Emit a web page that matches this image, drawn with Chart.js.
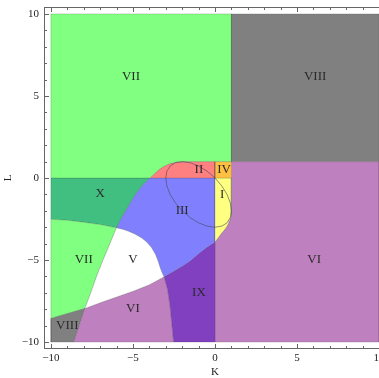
<!DOCTYPE html>
<html>
<head>
<meta charset="utf-8">
<script src="https://cdn.jsdelivr.net/npm/chart.js@4.4.1/dist/chart.umd.min.js"></script>
<style>
  html, body { margin: 0; padding: 0; background: #fff; overflow: hidden; }
  #wrap { width: 392px; height: 378px; }
</style>
</head>
<body>
<div id="wrap"><canvas id="regions" width="392" height="378"></canvas></div>
<script>
// tick values
const majorTicks = [-10, -5, 0, 5, 10];
const minorTicks = [-9, -8, -7, -6, -4, -3, -2, -1, 1, 2, 3, 4, 6, 7, 8, 9];

// boundary curves, [K, L]
const outerCurve = [[-6.0, -3.03], [-5.7, -2.45], [-5.38, -1.91], [-5.1, -1.42], [-4.77, -0.9], [-4.4, -0.42], [-3.96, 0]];
const redCurve = [[-3.96, 0], [-3.65, 0.3], [-3.35, 0.56], [-3.05, 0.74], [-2.74, 0.88], [-2.4, 0.96], [-2.0, 1.0]];
const yellowEdge = [[1, 0], [1, -2.0], [0.98, -2.3], [0.91, -2.52], [0.8, -2.8], [0.67, -3.03], [0.5, -3.25], [0.35, -3.43], [0.18, -3.65], [0, -3.9]];
const blueBottom = [[0, -3.9], [-0.51, -4.24], [-1.0, -4.62], [-1.52, -5.06], [-2.0, -5.38], [-2.54, -5.7], [-3.1, -6.02]];
const whiteTop = [[-6.0, -3.03], [-5.6, -3.12], [-5.29, -3.23], [-4.9, -3.4], [-4.47, -3.64], [-4.15, -3.9], [-3.86, -4.24], [-3.62, -4.65], [-3.46, -5.06], [-3.32, -5.5], [-3.2, -5.8], [-3.1, -6.02]];
const whiteBottom = [[-3.1, -6.02], [-4, -6.5], [-5, -6.9], [-6, -7.25], [-7, -7.6], [-7.93, -7.95]];
const greenWhite = [[-7.93, -7.95], [-7.55, -6.95], [-7.2, -5.95], [-6.8, -4.95], [-6.4, -4.0], [-6.0, -3.03]];
const greenTop = [[-10, -2.52], [-9, -2.58], [-8.03, -2.69], [-7, -2.84], [-6, -3.03]];
const purpleEdge = [[-3.1, -6.02], [-2.89, -6.78], [-2.74, -7.79], [-2.64, -8.8], [-2.52, -10]];
const ellipse = [[0.732, -2.732], [0.932, -2.414], [1.0, -2.0], [0.932, -1.518], [0.732, -1.0], [0.415, -0.483], [0, 0],
  [-0.483, 0.415], [-1.0, 0.732], [-1.518, 0.932], [-2.0, 1.0], [-2.414, 0.932], [-2.732, 0.732], [-2.932, 0.414],
  [-3.0, 0], [-2.932, -0.482], [-2.732, -1.0], [-2.415, -1.517], [-2.0, -2.0], [-1.517, -2.415], [-1.0, -2.732],
  [-0.482, -2.932], [0, -3.0], [0.414, -2.932], [0.732, -2.732]];

// region labels
const labelText = ["VII", "VIII", "II", "IV", "I", "III", "X", "VII", "V", "VI", "VI", "IX", "VIII"];
const labelPos = [[-5.12, 6.2], [6.1, 6.2], [-0.98, 0.52], [0.55, 0.52], [0.43, -1.0], [-2.0, -2.0], [-7.0, -0.95],
  [-8.0, -4.95], [-5.0, -4.95], [6.04, -4.95], [-5.0, -7.93], [-0.98, -6.96], [-9.0, -9.0]];

const rev = (a) => a.slice().reverse();
const pts = (a) => a.map(([x, y]) => ({ x, y }));

const regions = [
  { poly: [[-10, 10], [1, 10], [1, 1], ...rev(redCurve), [-10, 0]], color: "rgb(128,255,128)" },
  { poly: [[1, 1], [10, 1], [10, 10], [1, 10]], color: "rgb(128,128,128)" },
  { poly: [[0, 0], [1, 0], [1, 1], [0, 1]], color: "rgb(255,191,64)" },
  { poly: [...redCurve, [0, 1], [0, 0]], color: "rgb(255,128,128)" },
  { poly: [[0, 0], ...yellowEdge], color: "rgb(255,255,128)" },
  { poly: [...outerCurve, [0, 0], ...blueBottom, ...rev(whiteTop)], color: "rgb(128,128,255)" },
  { poly: [...blueBottom, ...purpleEdge, [0, -10]], color: "rgb(128,64,192)" },
  { poly: [...whiteTop, ...whiteBottom, ...greenWhite], color: "rgb(255,255,255)" },
  { poly: [...purpleEdge, [-8.6, -10], ...rev(whiteBottom)], color: "rgb(191,128,191)" },
  { poly: [[-10, -10], [-8.6, -10], [-7.93, -7.95], [-10, -8.56]], color: "rgb(128,128,128)" },
  { poly: [...greenTop, ...rev(greenWhite), [-10, -8.56]], color: "rgb(128,255,128)" },
  { poly: [[-10, 0], ...rev(outerCurve), ...rev(greenTop)], color: "rgb(64,191,128)" },
  { poly: [[1, 1], [10, 1], [10, -10], [0, -10], ...rev(yellowEdge)], color: "rgb(191,128,191)" },
];

const datasets = regions.map((r) => ({
  data: pts([...r.poly, r.poly[0]]),
  showLine: true,
  fill: "shape",
  backgroundColor: r.color,
  borderColor: "rgba(60,60,60,0.25)",
  borderWidth: 0.8,
  pointRadius: 0,
  tension: 0,
}));
// ellipse on top
datasets.unshift({
  data: pts(ellipse),
  showLine: true,
  fill: false,
  borderColor: "rgba(70,70,90,0.75)",
  borderWidth: 0.8,
  pointRadius: 0,
  tension: 0,
});

const serif = "'Liberation Serif', 'DejaVu Serif', serif";
const fmt = (v) => (v < 0 ? "\u2212" + Math.abs(v) : String(v));

// frame, inward ticks and region labels
const framePlugin = {
  id: "frame",
  afterDraw(chart) {
    const { ctx, chartArea: a, scales } = chart;
    const x = scales.x, y = scales.y;
    ctx.save();
    ctx.font = "13px " + serif;
    ctx.fillStyle = "#2a2a2a";
    ctx.textAlign = "center";
    ctx.textBaseline = "middle";
    labelText.forEach((t, i) => {
      ctx.fillText(t, x.getPixelForValue(labelPos[i][0]), y.getPixelForValue(labelPos[i][1]));
    });
    ctx.strokeStyle = "#666";
    ctx.lineWidth = 1;
    ctx.strokeRect(a.left + 0.5, a.top + 0.5, a.right - a.left - 1, a.bottom - a.top - 1);
    ctx.beginPath();
    const tick = (v, len) => {
      const px = Math.round(x.getPixelForValue(v)) + 0.5;
      ctx.moveTo(px, a.bottom); ctx.lineTo(px, a.bottom - len);
      ctx.moveTo(px, a.top); ctx.lineTo(px, a.top + len);
      const py = Math.round(y.getPixelForValue(v)) + 0.5;
      ctx.moveTo(a.left, py); ctx.lineTo(a.left + len, py);
      ctx.moveTo(a.right, py); ctx.lineTo(a.right - len, py);
    };
    majorTicks.forEach((v) => tick(v, 5));
    minorTicks.forEach((v) => tick(v, 3));
    ctx.stroke();
    ctx.restore();
  },
};

new Chart(document.getElementById("regions"), {
  type: "scatter",
  data: { datasets },
  options: {
    responsive: false,
    animation: false,
    devicePixelRatio: 1,
    layout: { padding: { left: 0, top: 7, right: 6, bottom: 0 } },
    plugins: { legend: { display: false }, tooltip: { enabled: false } },
    scales: {
      x: {
        type: "linear",
        min: -10.42,
        max: 10.42,
        afterBuildTicks: (s) => { s.ticks = majorTicks.map((v) => ({ value: v })); },
        afterFit: (s) => { s.height = 29; s.paddingLeft = 0; s.paddingRight = 0; },
        grid: { display: false, drawTicks: false },
        border: { display: false },
        ticks: { callback: fmt, font: { family: serif, size: 11 }, color: "#222", padding: 3, maxRotation: 0 },
        title: { display: true, text: "K", font: { family: serif, size: 11, lineHeight: 1 }, color: "#222", padding: 0 },
      },
      y: {
        type: "linear",
        min: -10.42,
        max: 10.42,
        afterBuildTicks: (s) => { s.ticks = majorTicks.map((v) => ({ value: v })); },
        afterFit: (s) => { s.width = 44; s.paddingTop = 0; s.paddingBottom = 0; },
        grid: { display: false, drawTicks: false },
        border: { display: false },
        ticks: { callback: fmt, font: { family: serif, size: 11 }, color: "#222", padding: 5 },
        title: { display: true, text: "L", font: { family: serif, size: 11, lineHeight: 1 }, color: "#222", padding: { top: 3, bottom: 0 } },
      },
    },
  },
  plugins: [framePlugin],
});
</script>
</body>
</html>
